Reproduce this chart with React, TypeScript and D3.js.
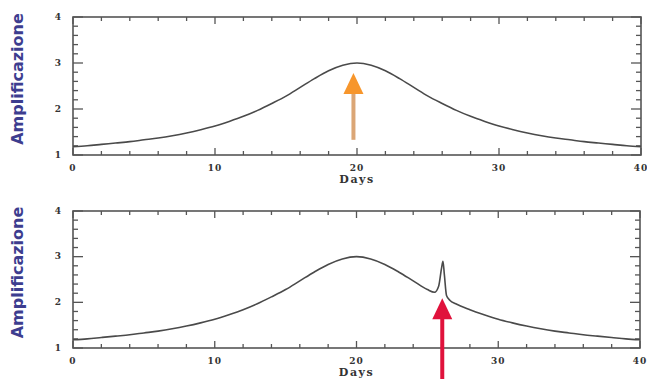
import { useEffect, useRef } from "react"
import * as d3 from "d3"

const W = 647
const H = 379

// ── Data ──────────────────────────────────────────────────────────────────
const days = [
  0, 1, 2, 3, 4, 5, 6, 7, 8, 9, 10, 11, 12, 13, 14, 15, 16, 17, 18, 19, 20,
  21, 22, 23, 24, 25, 26, 27, 28, 29, 30, 31, 32, 33, 34, 35, 36, 37, 38, 39, 40,
]
const amplification = [
  1.18, 1.2, 1.23, 1.26, 1.29, 1.33, 1.37, 1.42, 1.48, 1.55, 1.63, 1.73, 1.84, 1.97, 2.12, 2.28, 2.47, 2.66, 2.83, 2.95, 3.0,
  2.95, 2.83, 2.66, 2.47, 2.28, 2.12, 1.97, 1.84, 1.73, 1.63, 1.55, 1.48, 1.42, 1.37, 1.33, 1.29, 1.26, 1.23, 1.2, 1.18,
]

const planetDays = [
  0, 1, 2, 3, 4, 5, 6, 7, 8, 9, 10, 11, 12, 13, 14, 15, 16, 17, 18, 19, 20,
  21, 22, 23, 24, 25, 25.5, 25.8, 26.0, 26.1, 26.2, 26.35, 26.6, 27, 28, 29,
  30, 31, 32, 33, 34, 35, 36, 37, 38, 39, 40,
]
const planetAmplification = [
  1.18, 1.2, 1.23, 1.26, 1.29, 1.33, 1.37, 1.42, 1.48, 1.55, 1.63, 1.73, 1.84, 1.97, 2.12, 2.28, 2.47, 2.66, 2.83, 2.95, 3.0,
  2.95, 2.83, 2.66, 2.47, 2.28, 2.22, 2.36, 2.75, 2.9, 2.6, 2.15, 2.04, 1.97, 1.84, 1.73,
  1.63, 1.55, 1.48, 1.42, 1.37, 1.33, 1.29, 1.26, 1.23, 1.2, 1.18,
]

const xTicks = [0, 10, 20, 30, 40]
const yTicks = [1, 2, 3, 4]
const xLabel = "Days"
const yLabel = "Amplificazione"

// arrows: day position, tip and tail in amplification units
const arrows = [
  { day: 19.75, tip: 2.78, tail: 1.33, shaft: "#dba676", head: "#f7962c" },
  { day: 26.05, tip: 2.09, tail: 0.3, shaft: "#e0123c", head: "#e0123c" },
]

const PANELS = [
  { x0: 73, x1: 641, y0: 17, y1: 155 },
  { x0: 73, x1: 640, y0: 211, y1: 348 },
]

export default function App() {
  const svgRef = useRef<SVGSVGElement>(null)

  useEffect(() => {
    const svg = svgRef.current
    if (!svg) return
    d3.select(svg).selectAll("*").remove()
    const root = d3.select(svg)

    const series = [
      { x: days, y: amplification, arrow: arrows[0] },
      { x: planetDays, y: planetAmplification, arrow: arrows[1] },
    ]

    series.forEach((s, i) => {
      const p = PANELS[i]
      const xScale = d3.scaleLinear().domain([0, 40]).range([p.x0, p.x1])
      const yScale = d3.scaleLinear().domain([1, 4]).range([p.y1, p.y0])
      const g = root.append("g")

      // ── Ticks (inward, all four sides) ────────────────────────────────
      const xMinor = d3.range(0, 40.01, 2)
      const yMinor = d3.range(1, 4.001, 0.2)
      xMinor.forEach((d) => {
        const len = d % 10 === 0 ? 7 : 4
        g.append("line").attr("x1", xScale(d)).attr("x2", xScale(d))
          .attr("y1", p.y1).attr("y2", p.y1 - len)
          .attr("stroke", "#555").attr("stroke-width", 1.3)
        g.append("line").attr("x1", xScale(d)).attr("x2", xScale(d))
          .attr("y1", p.y0).attr("y2", p.y0 + len)
          .attr("stroke", "#555").attr("stroke-width", 1.3)
      })
      yMinor.forEach((d) => {
        const major = Math.abs(d - Math.round(d)) < 0.01
        const len = major ? 10 : 5
        g.append("line").attr("x1", p.x0).attr("x2", p.x0 + len)
          .attr("y1", yScale(d)).attr("y2", yScale(d))
          .attr("stroke", "#555").attr("stroke-width", 1.3)
        g.append("line").attr("x1", p.x1).attr("x2", p.x1 - len)
          .attr("y1", yScale(d)).attr("y2", yScale(d))
          .attr("stroke", "#555").attr("stroke-width", 1.3)
      })

      // ── Frame ─────────────────────────────────────────────────────────
      g.append("rect")
        .attr("x", p.x0).attr("y", p.y0)
        .attr("width", p.x1 - p.x0).attr("height", p.y1 - p.y0)
        .attr("fill", "none").attr("stroke", "#555").attr("stroke-width", 1.6)

      // ── Tick labels ───────────────────────────────────────────────────
      g.selectAll(".xt").data(xTicks).join("text")
        .attr("x", (d) => xScale(d)).attr("y", p.y1 + 13)
        .attr("text-anchor", "middle").attr("dominant-baseline", "middle")
        .attr("font-family", "DejaVu Serif").attr("font-weight", 700)
        .attr("font-size", 9).attr("letter-spacing", 1).attr("fill", "#333")
        .text((d) => d)
      g.selectAll(".yt").data(yTicks).join("text")
        .attr("x", 58).attr("y", (d) => yScale(d))
        .attr("text-anchor", "middle").attr("dominant-baseline", "middle")
        .attr("font-family", "DejaVu Serif").attr("font-weight", 700)
        .attr("font-size", 9).attr("fill", "#333")
        .text((d) => d)

      g.append("text")
        .attr("x", xScale(20)).attr("y", p.y1 + 25)
        .attr("text-anchor", "middle").attr("dominant-baseline", "middle")
        .attr("font-family", "DejaVu Serif").attr("font-weight", 700)
        .attr("font-size", 11).attr("letter-spacing", 1.5).attr("fill", "#333")
        .text(xLabel)

      const cy = (p.y0 + p.y1) / 2 - 7
      g.append("text")
        .attr("transform", `translate(18,${cy}) rotate(-90)`)
        .attr("text-anchor", "middle").attr("dominant-baseline", "middle")
        .attr("font-family", "DejaVu Sans").attr("font-weight", 700)
        .attr("font-size", 16).attr("fill", "#3d3d8f")
        .text(yLabel)

      // ── Light curve ───────────────────────────────────────────────────
      const line = d3.line<number>()
        .x((_, k) => xScale(s.x[k]))
        .y((d) => yScale(d))
        .curve(d3.curveMonotoneX)
      g.append("path")
        .attr("d", line(s.y))
        .attr("fill", "none").attr("stroke", "#4a4a4a").attr("stroke-width", 1.6)

      // ── Arrow ─────────────────────────────────────────────────────────
      const a = s.arrow
      const ax = xScale(a.day)
      const tipY = yScale(a.tip)
      g.append("line")
        .attr("x1", ax).attr("x2", ax)
        .attr("y1", tipY + 16).attr("y2", yScale(a.tail))
        .attr("stroke", a.shaft).attr("stroke-width", 4)
      g.append("path")
        .attr("d", `M${ax},${tipY} L${ax + 10},${tipY + 21} L${ax - 10},${tipY + 21} Z`)
        .attr("fill", a.head)
    })
  }, [])

  return (
    <svg
      ref={svgRef}
      width={W}
      height={H}
      style={{ position: "absolute", left: 0, top: 0, background: "#fff", display: "block" }}
    />
  )
}
